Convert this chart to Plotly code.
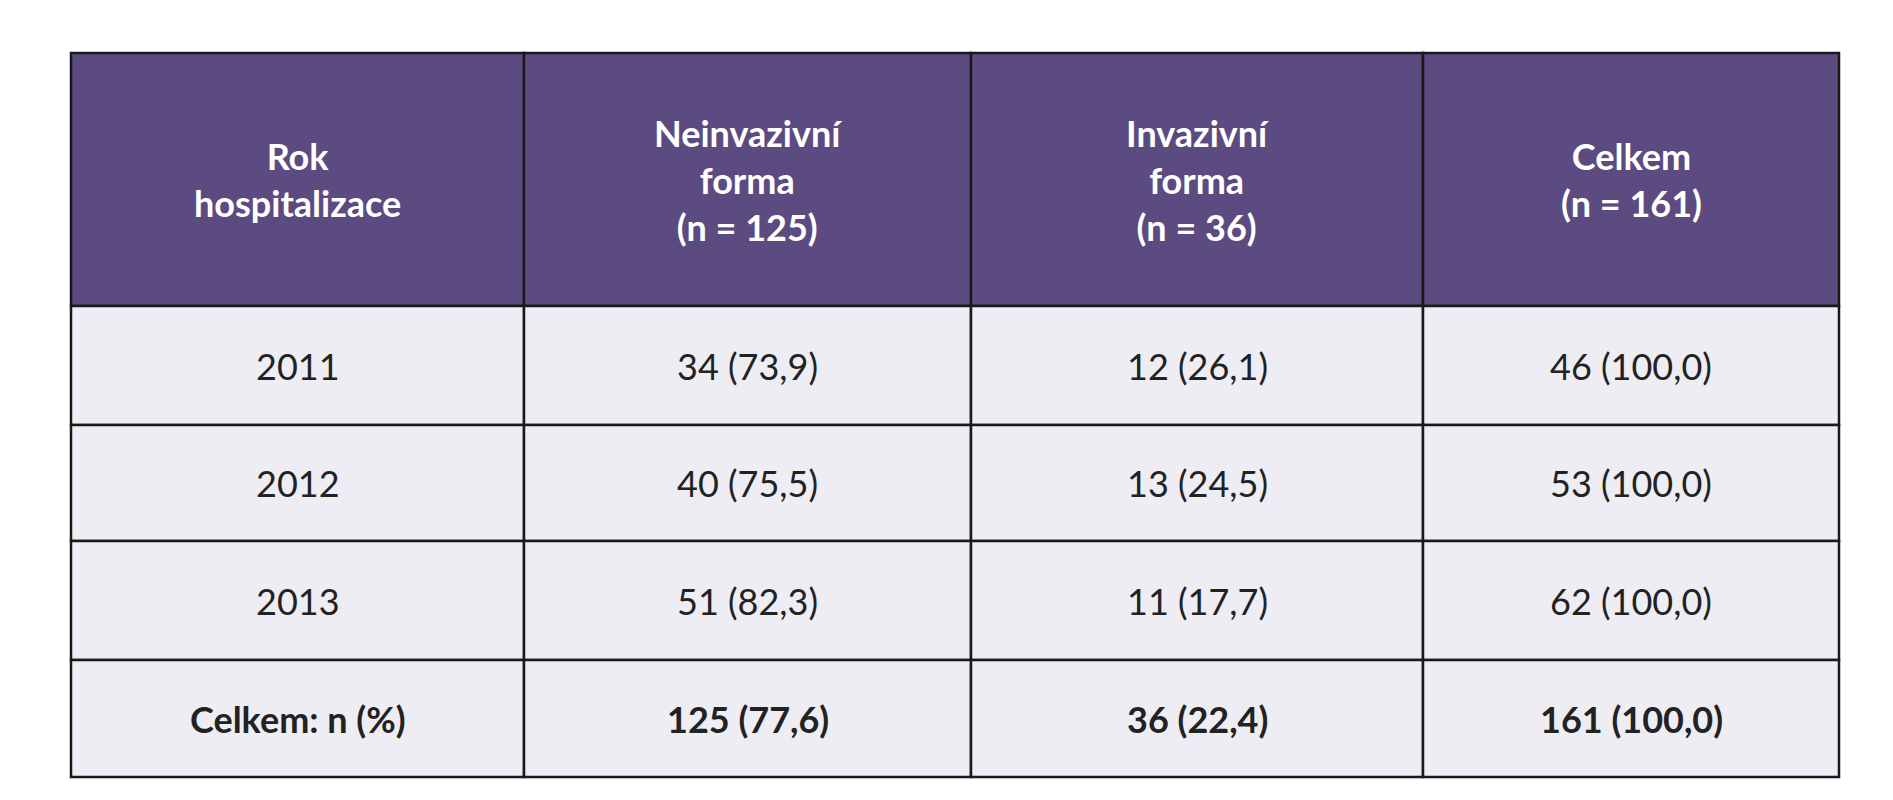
import plotly.graph_objects as go

headers = ["Rok<br>hospitalizace", "Neinvazivní<br>forma<br>(n = 125)", "Invazivní<br>forma<br>(n = 36)", "Celkem<br>(n = 161)"]
years = ["2011", "2012", "2013", "<b>Celkem: n (%)</b>"]
neinvazivni = ["34 (73,9)", "40 (75,5)", "51 (82,3)", "<b>125 (77,6)</b>"]
invazivni = ["12 (26,1)", "13 (24,5)", "11 (17,7)", "<b>36 (22,4)</b>"]
celkem = ["46 (100,0)", "53 (100,0)", "62 (100,0)", "<b>161 (100,0)</b>"]

W, H = 1893, 800
col_x = [63, 516, 963, 1415, 1831]
row_y = [45, 298, 417, 533, 652, 769]
columns = [years, neinvazivni, invazivni, celkem]

shapes, ann = [], []
def px(x): return x / W
def py(y): return 1 - y / H

for r in range(5):
    for c in range(4):
        fill = "#5c4b80" if r == 0 else "#eeedf3"
        shapes.append(dict(type="rect", xref="paper", yref="paper",
                           x0=px(col_x[c]), x1=px(col_x[c+1]), y0=py(row_y[r+1]), y1=py(row_y[r]),
                           fillcolor=fill, line=dict(color="#1a1a1a", width=2.5), layer="below"))
        text = f"<b>{headers[c]}</b>" if r == 0 else columns[c][r-1]
        ann.append(dict(xref="paper", yref="paper", x=px((col_x[c]+col_x[c+1])/2),
                        y=py((row_y[r]+row_y[r+1])/2), text=text, showarrow=False,
                        align="center", xanchor="center", yanchor="middle",
                        font=dict(family="Lato", size=36, color="white" if r == 0 else "#222222")))

fig = go.Figure()
fig.update_layout(width=W, height=H, margin=dict(l=0, r=0, t=0, b=0),
                  paper_bgcolor="white", plot_bgcolor="white", shapes=shapes, annotations=ann,
                  xaxis=dict(visible=False), yaxis=dict(visible=False))
fig.write_html("out.html")
